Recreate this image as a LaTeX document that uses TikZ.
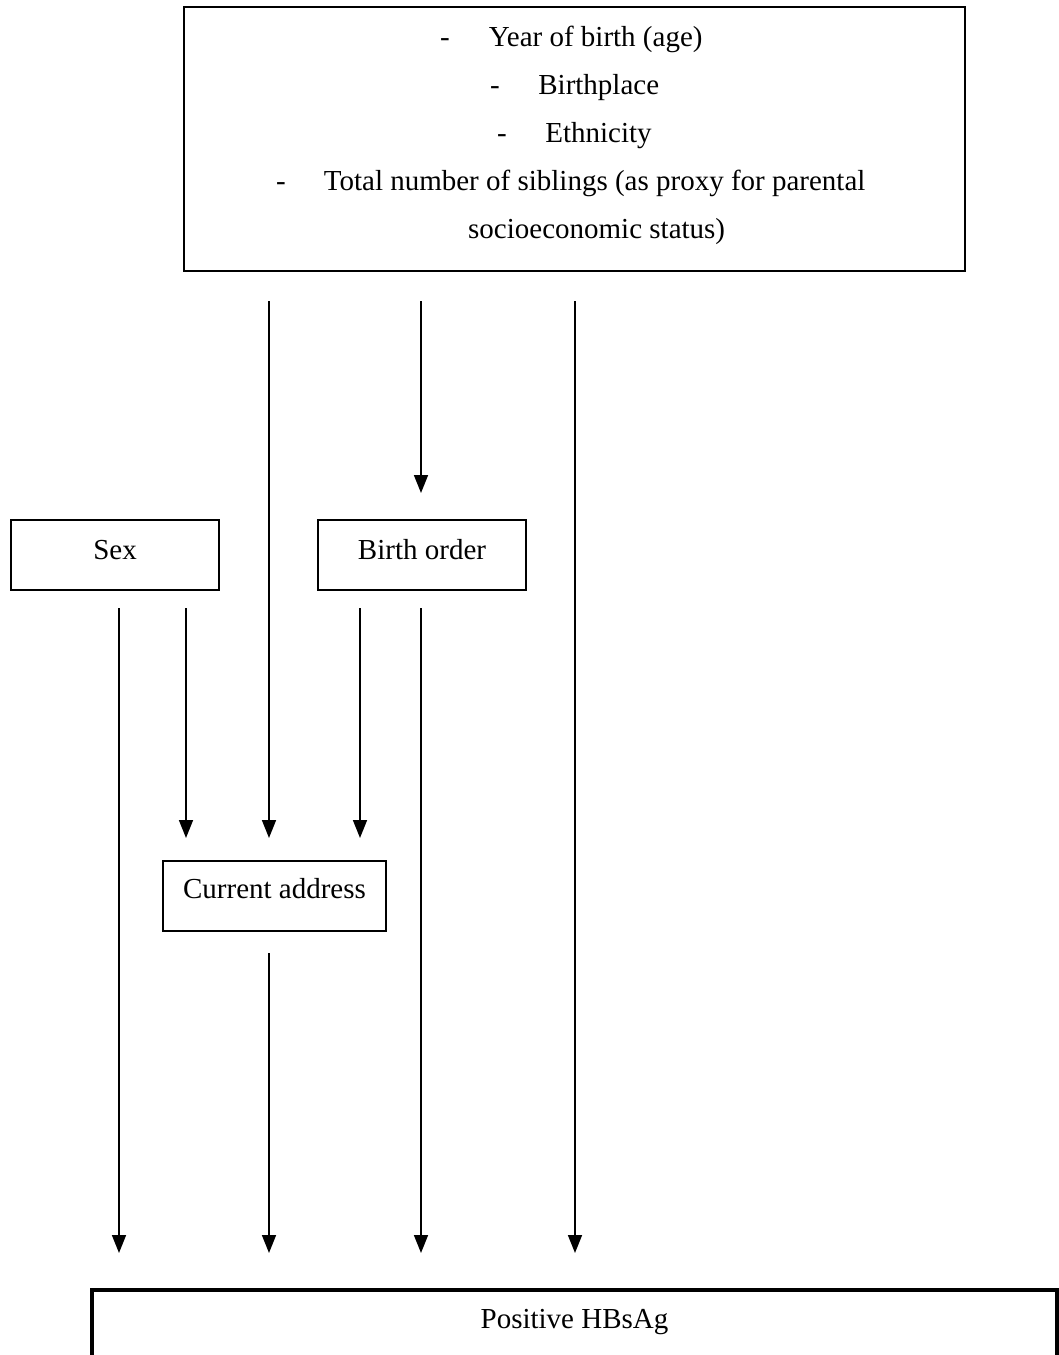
\documentclass[tikz,border=0pt]{standalone}
\usepackage{fontspec}
\setmainfont{Liberation Serif}
\usetikzlibrary{arrows.meta}
\begin{document}
\begin{tikzpicture}[x=1pt,y=-1pt,
  every node/.style={font=\fontsize{29}{35}\selectfont},
  box/.style={draw,line width=2pt,inner sep=0pt,text height=20pt,text depth=12pt},
  arr/.style={line width=1.6pt,-{Triangle[width=14pt,length=18pt]}},
  ln/.style={anchor=base west,inner sep=0pt}]
\useasboundingbox (0,0) rectangle (1059,1355);

% boxes
\node[box,minimum width=781pt,minimum height=264pt] (top) at (574.5,139) {};
\node[ln] (t1) at (440,46) {-\hspace{39pt}Year of birth (age)};
\node[ln] (t2) at (490,94) {-\hspace{38.5pt}Birthplace};
\node[ln] (t3) at (497,142) {-\hspace{38.5pt}Ethnicity};
\node[ln] (t4) at (276,190) {-\hspace{38pt}Total number of siblings (as proxy for parental};
\node[ln] (t5) at (468,238) {socioeconomic status)};

\node[box,minimum width=208pt,minimum height=70pt] (sex) at (115,555) {Sex};
\node[box,minimum width=208pt,minimum height=70pt] (border) at (422,555) {Birth order};
\node[box,minimum width=223pt,minimum height=70pt,text depth=16pt] (addr) at (274.5,896) {Current address};
\node[draw,line width=3.5pt,inner sep=0pt,minimum width=965pt,minimum height=120pt,
      text height=20pt,text depth=62pt,anchor=north] (hbs) at (574.5,1288) {Positive HBsAg};

% arrow end points
\coordinate (ta) at (269,301);
\coordinate (tb) at (421,301);
\coordinate (tc) at (575,301);
\coordinate (sa) at (119,608);
\coordinate (sb) at (186,608);
\coordinate (ba) at (360,608);
\coordinate (bb) at (421,608);
\coordinate (aa) at (269,953);
\coordinate (ea) at (186,838);
\coordinate (eb) at (269,838);
\coordinate (ec) at (360,838);
\coordinate (bo) at (421,493);
\coordinate (h1) at (119,1253);
\coordinate (h2) at (269,1253);
\coordinate (h3) at (421,1253);
\coordinate (h4) at (575,1253);

% arrows
\draw[arr] (ta) -- (eb);
\draw[arr] (tb) -- (bo);
\draw[arr] (tc) -- (h4);
\draw[arr] (sa) -- (h1);
\draw[arr] (sb) -- (ea);
\draw[arr] (ba) -- (ec);
\draw[arr] (bb) -- (h3);
\draw[arr] (aa) -- (h2);
\end{tikzpicture}
\end{document}
